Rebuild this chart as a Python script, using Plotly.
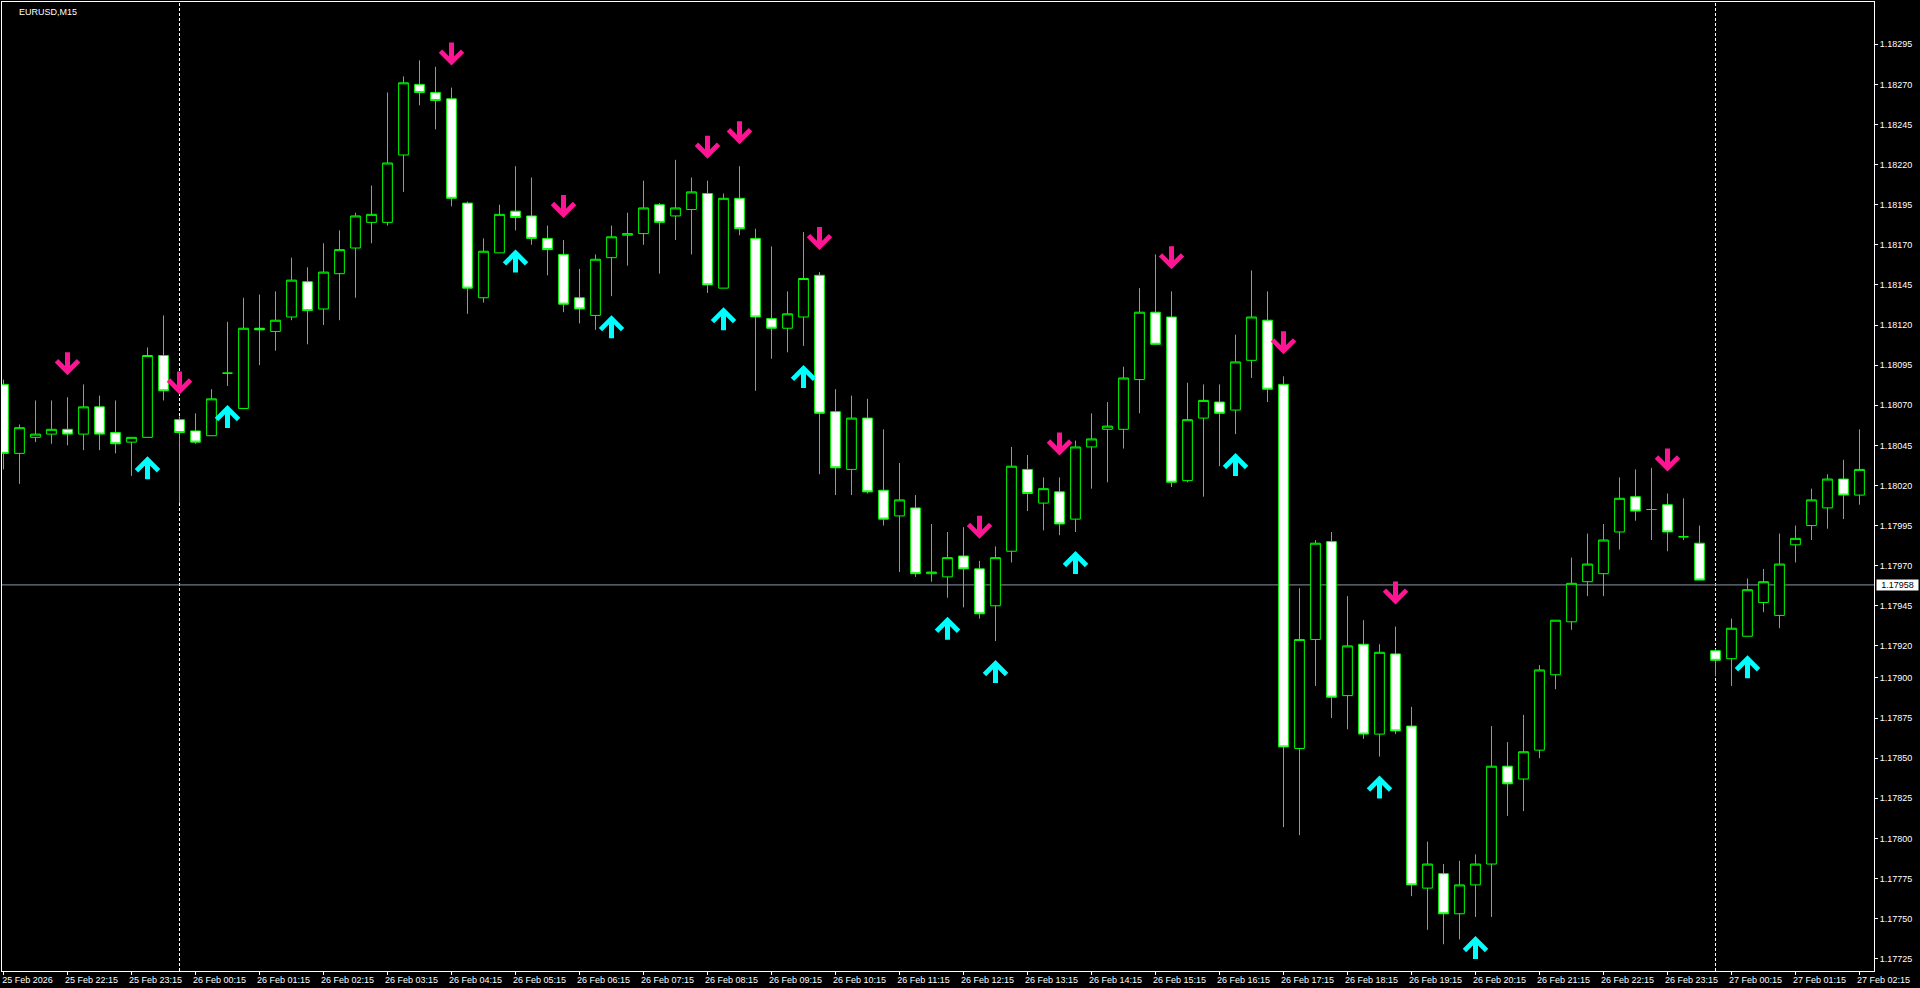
import pandas as pd
import plotly.graph_objects as go

# ---------------- data ----------------
symbol_label = "EURUSD,M15"
start_time = "2026-02-25 21:15"
bar_freq = "15min"

opens = [1.18083, 1.18040, 1.18050, 1.18052, 1.18055, 1.18052, 1.18069, 1.18053, 1.18047, 1.18050,
         1.18101, 1.18061, 1.18054, 1.18051, 1.18090, 1.18068, 1.18118, 1.18116, 1.18125, 1.18147,
         1.18130, 1.18152, 1.18168, 1.18184, 1.18184, 1.18226, 1.18270, 1.18265, 1.18261, 1.18196,
         1.18137, 1.18165, 1.18191, 1.18188, 1.18174, 1.18164, 1.18137, 1.18126, 1.18162, 1.18176,
         1.18177, 1.18195, 1.18188, 1.18192, 1.18202, 1.18143, 1.18199, 1.18174, 1.18124, 1.18118,
         1.18125, 1.18151, 1.18066, 1.18030, 1.18062, 1.18017, 1.18001, 1.18006, 1.17965, 1.17963,
         1.17976, 1.17968, 1.17945, 1.17979, 1.18030, 1.18009, 1.18016, 1.17999, 1.18044, 1.18055,
         1.18055, 1.18086, 1.18128, 1.18125, 1.18023, 1.18062, 1.18072, 1.18067, 1.18098, 1.18123,
         1.18083, 1.17856, 1.17924, 1.17985, 1.17889, 1.17921, 1.17865, 1.17915, 1.17870, 1.17769,
         1.17778, 1.17753, 1.17771, 1.17784, 1.17845, 1.17837, 1.17855, 1.17902, 1.17935, 1.17960,
         1.17965, 1.17991, 1.18013, 1.18005, 1.18008, 1.17988, 1.17984, 1.17917, 1.17912, 1.17926,
         1.17947, 1.17939, 1.17983, 1.17995, 1.18006, 1.18024, 1.18014]

highs = [1.18086, 1.18058, 1.18073, 1.18073, 1.18075, 1.18083, 1.18076, 1.18073, 1.18050, 1.18106,
         1.18126, 1.18063, 1.18065, 1.18080, 1.18122, 1.18137, 1.18139, 1.18141, 1.18162, 1.18156,
         1.18171, 1.18179, 1.18190, 1.18207, 1.18265, 1.18275, 1.18285, 1.18281, 1.18268, 1.18197,
         1.18174, 1.18195, 1.18219, 1.18212, 1.18182, 1.18173, 1.18155, 1.18164, 1.18182, 1.18190,
         1.18210, 1.18196, 1.18223, 1.18212, 1.18210, 1.18202, 1.18219, 1.18180, 1.18169, 1.18141,
         1.18178, 1.18153, 1.18080, 1.18076, 1.18074, 1.18055, 1.18034, 1.18014, 1.17996, 1.17991,
         1.17994, 1.17973, 1.17982, 1.18044, 1.18039, 1.18025, 1.18025, 1.18048, 1.18065, 1.18072,
         1.18094, 1.18143, 1.18164, 1.18141, 1.18084, 1.18083, 1.18083, 1.18114, 1.18154, 1.18141,
         1.18088, 1.17956, 1.17986, 1.17991, 1.17951, 1.17936, 1.17921, 1.17932, 1.17882, 1.17798,
         1.17784, 1.17786, 1.17790, 1.17870, 1.17860, 1.17877, 1.17908, 1.17936, 1.17975, 1.17990,
         1.17996, 1.18025, 1.18030, 1.18031, 1.18015, 1.18012, 1.17995, 1.17918, 1.17937, 1.17962,
         1.17968, 1.17990, 1.17995, 1.18018, 1.18027, 1.18036, 1.18055]

lows = [1.18030, 1.18021, 1.18047, 1.18046, 1.18045, 1.18042, 1.18042, 1.18040, 1.18026, 1.18050,
        1.18073, 1.18009, 1.18046, 1.18051, 1.18082, 1.18068, 1.18095, 1.18104, 1.18123, 1.18108,
        1.18120, 1.18123, 1.18137, 1.18171, 1.18182, 1.18203, 1.18257, 1.18242, 1.18194, 1.18127,
        1.18134, 1.18165, 1.18179, 1.18170, 1.18151, 1.18128, 1.18121, 1.18117, 1.18138, 1.18157,
        1.18170, 1.18152, 1.18173, 1.18164, 1.18140, 1.18143, 1.18176, 1.18079, 1.18099, 1.18103,
        1.18107, 1.18027, 1.18014, 1.18014, 1.18015, 1.17995, 1.17966, 1.17963, 1.17960, 1.17950,
        1.17944, 1.17937, 1.17923, 1.17972, 1.18004, 1.17992, 1.17989, 1.17991, 1.18018, 1.18022,
        1.18043, 1.18065, 1.18108, 1.18019, 1.18022, 1.18013, 1.18032, 1.18052, 1.18087, 1.18072,
        1.17807, 1.17802, 1.17895, 1.17875, 1.17868, 1.17862, 1.17851, 1.17865, 1.17764, 1.17743,
        1.17734, 1.17737, 1.17751, 1.17751, 1.17814, 1.17817, 1.17850, 1.17893, 1.17930, 1.17951,
        1.17951, 1.17980, 1.17998, 1.17986, 1.17979, 1.17986, 1.17961, 1.17901, 1.17895, 1.17926,
        1.17941, 1.17931, 1.17972, 1.17986, 1.17993, 1.17999, 1.18008]

closes = [1.18040, 1.18056, 1.18052, 1.18055, 1.18052, 1.18069, 1.18052, 1.18046, 1.18050, 1.18101,
          1.18079, 1.18053, 1.18047, 1.18074, 1.18090, 1.18118, 1.18117, 1.18123, 1.18148, 1.18129,
          1.18153, 1.18167, 1.18188, 1.18189, 1.18221, 1.18271, 1.18265, 1.18260, 1.18199, 1.18143,
          1.18166, 1.18189, 1.18187, 1.18174, 1.18167, 1.18133, 1.18130, 1.18161, 1.18175, 1.18177,
          1.18193, 1.18184, 1.18193, 1.18203, 1.18145, 1.18199, 1.18180, 1.18125, 1.18118, 1.18127,
          1.18149, 1.18065, 1.18031, 1.18062, 1.18016, 1.17999, 1.18011, 1.17965, 1.17966, 1.17975,
          1.17968, 1.17940, 1.17975, 1.18032, 1.18015, 1.18018, 1.17996, 1.18044, 1.18049, 1.18057,
          1.18087, 1.18128, 1.18108, 1.18022, 1.18061, 1.18073, 1.18065, 1.18097, 1.18125, 1.18080,
          1.17857, 1.17924, 1.17984, 1.17888, 1.17920, 1.17865, 1.17916, 1.17867, 1.17771, 1.17784,
          1.17753, 1.17771, 1.17784, 1.17845, 1.17834, 1.17854, 1.17905, 1.17936, 1.17959, 1.17971,
          1.17986, 1.18012, 1.18004, 1.18005, 1.17991, 1.17988, 1.17961, 1.17911, 1.17931, 1.17955,
          1.17960, 1.17971, 1.17987, 1.18011, 1.18024, 1.18014, 1.18030]

up_arrow_bars = [9, 14, 32, 38, 45, 50, 59, 62, 67, 77, 86, 92, 109]
down_arrow_bars = [4, 11, 28, 35, 44, 46, 51, 61, 66, 73, 80, 87, 104]

price_ticks = [1.18295, 1.18270, 1.18245, 1.18220, 1.18195, 1.18170, 1.18145, 1.18120,
               1.18095, 1.18070, 1.18045, 1.18020, 1.17995, 1.17970, 1.17945, 1.17920,
               1.17900, 1.17875, 1.17850, 1.17825, 1.17800, 1.17775, 1.17750, 1.17725]
marked_price = 1.17958
time_label_step = 4

# ---------------- derived ----------------
n = len(opens)
idx = list(range(n))
times = pd.date_range(start_time, periods=n, freq=bar_freq)
tick_bars = idx[::time_label_step]
tick_text = [times[0].strftime("%d %b %Y")] + [times[i].strftime("%d %b %H:%M") for i in tick_bars[1:]]
day_breaks = [i for i, t in enumerate(times) if t.hour == 0 and t.minute == 0]

W, H = 1920, 988
ML, MR, MT, MB = 2, 46, 2, 17
plot_w = W - ML - MR
plot_h = H - MT - MB
bar_px = 16.0
first_bar_px = 1.5
x_range = [-first_bar_px / bar_px, (plot_w - first_bar_px) / bar_px]
px_per_price = 160420.0
top_tick_px = 42.3
y_top = price_ticks[0] + top_tick_px / px_per_price
y_range = [y_top - plot_h / px_per_price, y_top]

LIME = "#00FF00"
FONT = "Liberation Sans, Arial, sans-serif"

fig = go.Figure()
fig.add_trace(go.Candlestick(
    x=idx, open=opens, high=highs, low=lows, close=closes,
    increasing=dict(line=dict(color=LIME, width=1), fillcolor="#000000"),
    decreasing=dict(line=dict(color=LIME, width=1), fillcolor="#FFFFFF"),
    whiskerwidth=0, showlegend=False, hoverinfo="skip",
))

shapes = []
for b in day_breaks:
    shapes.append(dict(type="line", xref="x", yref="paper", x0=b, x1=b, y0=0, y1=1,
                       line=dict(color="#FFFFFF", width=1, dash="3px,2px"), layer="below"))
shapes.append(dict(type="line", xref="paper", yref="y", x0=0, x1=1, y0=marked_price, y1=marked_price,
                   line=dict(color="#8A97A6", width=1), layer="below"))
# time-axis tick marks hanging below the frame
for b in tick_bars:
    shapes.append(dict(type="line", xref="x", yref="paper", ysizemode="pixel", yanchor=0,
                       x0=b, x1=b, y0=0, y1=-4, line=dict(color="#FFFFFF", width=1)))

annotations = []
for b in up_arrow_bars:
    annotations.append(dict(x=b, y=lows[b], xref="x", yref="y", text=" ", font=dict(size=1),
                            showarrow=True, arrowhead=4, arrowsize=0.85, arrowwidth=5,
                            arrowcolor="#00FFFF", ax=0, ay=25, yshift=-19))
for b in down_arrow_bars:
    annotations.append(dict(x=b, y=highs[b], xref="x", yref="y", text=" ", font=dict(size=1),
                            showarrow=True, arrowhead=4, arrowsize=0.85, arrowwidth=5,
                            arrowcolor="#FF1493", ax=0, ay=-25, yshift=22))
annotations.append(dict(x=0, y=1, xref="paper", yref="paper", xanchor="left", yanchor="top",
                        text=symbol_label, showarrow=False, xshift=15, yshift=-3,
                        font=dict(family=FONT, size=9, color="#FFFFFF")))
annotations.append(dict(x=1, y=marked_price, xref="paper", yref="y", xanchor="left", yanchor="middle",
                        text=f"{marked_price:.5f}", showarrow=False, xshift=2, width=41, height=10,
                        bgcolor="#FFFFFF", borderpad=0,
                        font=dict(family=FONT, size=9, color="#000000")))

fig.update_layout(
    width=W, height=H,
    margin=dict(l=ML, r=MR, t=MT, b=MB, pad=0),
    paper_bgcolor="#000000", plot_bgcolor="#000000",
    showlegend=False, boxgap=0.394, boxgroupgap=0,
    shapes=shapes, annotations=annotations,
    xaxis=dict(range=x_range, rangeslider=dict(visible=False), showgrid=False, zeroline=False,
               tickmode="array", tickvals=tick_bars, ticktext=tick_text, ticks="",
               tickfont=dict(family=FONT, size=9, color="#FFFFFF"), ticklabelshift=24,
               showline=True, linecolor="#FFFFFF", linewidth=1, mirror=True, fixedrange=True),
    yaxis=dict(range=y_range, side="right", showgrid=False, zeroline=False,
               tickmode="array", tickvals=price_ticks, ticktext=[f"{v:.5f}" for v in price_ticks],
               ticks="outside", ticklen=3, tickcolor="#FFFFFF", tickwidth=1,
               tickfont=dict(family=FONT, size=9, color="#FFFFFF"),
               showline=True, linecolor="#FFFFFF", linewidth=1, mirror=True, fixedrange=True),
)

fig.write_html("out.html", include_plotlyjs=True, config={"displayModeBar": False},
               post_script="document.body.style.margin='0';document.body.style.overflow='hidden';"
                           "document.body.style.background='#000';")
